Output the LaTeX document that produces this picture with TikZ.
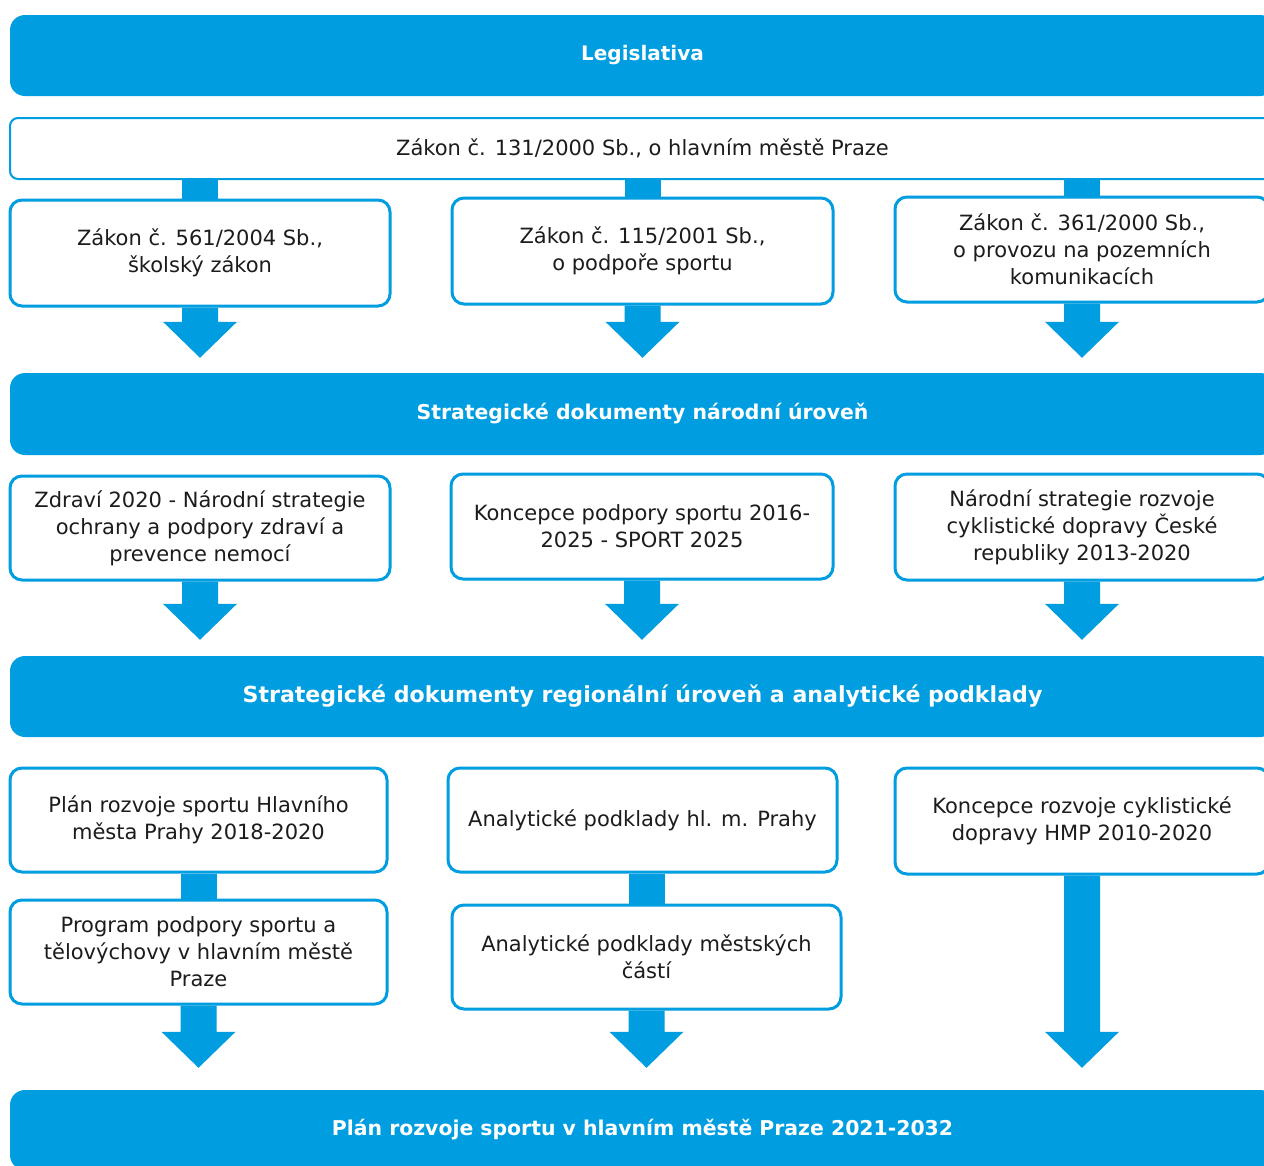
\documentclass[tikz,border=0pt]{standalone}
\usepackage{fontspec}
\setmainfont{DejaVu Sans}
\usetikzlibrary{calc}
\definecolor{cblue}{RGB}{0,158,224}
\definecolor{ctext}{RGB}{28,28,28}
\tikzset{
  banner/.style={fill=cblue, rounded corners=15pt, minimum width=1265pt, text=white,
    font=\bfseries\fontsize{20.4}{24}\selectfont, inner sep=0pt},
  box/.style={draw=cblue, line width=3pt, fill=white, rounded corners=12pt, align=center,
    text=ctext, font=\fontsize{21}{27}\selectfont, inner sep=0pt},
  bar/.style={fill=cblue},
}
% #1 source node, #2 target node, #3 gap above target
\newcommand\flowarrow[3]{%
  \fill[bar] ($(#1.south)+(-18,0)$) -- ($(#1.south |- #2.north)+(-18,#3+36)$)
    -- ($(#1.south |- #2.north)+(-37,#3+36)$) -- ($(#1.south |- #2.north)+(0,#3)$)
    -- ($(#1.south |- #2.north)+(37,#3+36)$) -- ($(#1.south |- #2.north)+(18,#3+36)$)
    -- ($(#1.south)+(18,0)$) -- cycle;}
% #1 upper node, #2 lower node
\newcommand\linkbar[2]{%
  \fill[bar] ($(#2.north |- #1.south)+(-18,0)$) rectangle ($(#2.north)+(18,0)$);}
\begin{document}
\begin{tikzpicture}[x=1pt,y=1pt]
\useasboundingbox (0,0) rectangle (1264,-1165);
\clip (0,0) rectangle (1264,-1165);
\fill[white] (0,0) rectangle (1264,-1165);

% banners
\node[banner, minimum height=81pt, font=\bfseries\fontsize{20}{24}\selectfont] (b1) at (642.5,-55.5) {Legislativa};
\node[banner, minimum height=82pt] (b2) at (642.5,-414) {Strategické dokumenty národní úroveň};
\node[banner, minimum height=81pt, font=\bfseries\fontsize{22.1}{24}\selectfont] (b3) at (642.5,-696.5) {Strategické dokumenty regionální úroveň a analytické podklady};
\node[banner, minimum height=80pt] (b4) at (642.5,-1130) {Plán rozvoje sportu v hlavním městě Praze 2021-2032};

% row 1
\node[box, line width=2pt, rounded corners=8pt, minimum width=1265pt, minimum height=61pt] (zak) at (642.5,-148.5) {Zákon č. 131/2000 Sb., o hlavním městě Praze};

% row 2
\node[box, minimum width=380pt, minimum height=106pt] (l2) at (200,-253) {Zákon č. 561/2004 Sb.,\\školský zákon};
\node[box, minimum width=381pt, minimum height=106pt] (m2) at (642.5,-251) {Zákon č. 115/2001 Sb.,\\o podpoře sportu};
\node[box, minimum width=374pt, minimum height=105pt] (r2) at (1082,-249.5) {Zákon č. 361/2000 Sb.,\\o provozu na pozemních\\komunikacích};

% row 3
\node[box, minimum width=380pt, minimum height=104pt] (l3) at (200,-528) {Zdraví 2020 - Národní strategie\\ochrany a podpory zdraví a\\prevence nemocí};
\node[box, minimum width=382pt, minimum height=105pt] (m3) at (642,-526.5) {Koncepce podpory sportu 2016-\\2025 - SPORT 2025};
\node[box, minimum width=374pt, minimum height=106pt] (r3) at (1082,-527) {Národní strategie rozvoje\\cyklistické dopravy České\\republiky 2013-2020};

% row 4
\node[box, minimum width=377pt, minimum height=104pt] (l4) at (198.5,-820) {Plán rozvoje sportu Hlavního\\města Prahy 2018-2020};
\node[box, minimum width=389pt, minimum height=104pt] (m4) at (642.5,-820) {Analytické podklady hl. m. Prahy};
\node[box, minimum width=374pt, minimum height=106pt] (r4) at (1082,-821) {Koncepce rozvoje cyklistické\\dopravy HMP 2010-2020};
\node[box, minimum width=377pt, minimum height=104pt] (l5) at (198.5,-952) {Program podpory sportu a\\tělovýchovy v hlavním městě\\Praze};
\node[box, minimum width=389pt, minimum height=104pt] (m5) at (646.5,-957) {Analytické podklady městských\\částí};

% bars
\linkbar{zak}{l2}
\linkbar{zak}{m2}
\linkbar{zak}{r2}
\linkbar{l4}{l5}
\linkbar{m4}{m5}

% arrows
\flowarrow{l2}{b2}{15}
\flowarrow{m2}{b2}{15}
\flowarrow{r2}{b2}{15}
\flowarrow{l3}{b3}{16}
\flowarrow{m3}{b3}{16}
\flowarrow{r3}{b3}{16}
\flowarrow{l5}{b4}{22}
\flowarrow{m5}{b4}{22}
\flowarrow{r4}{b4}{22}
\end{tikzpicture}
\end{document}
